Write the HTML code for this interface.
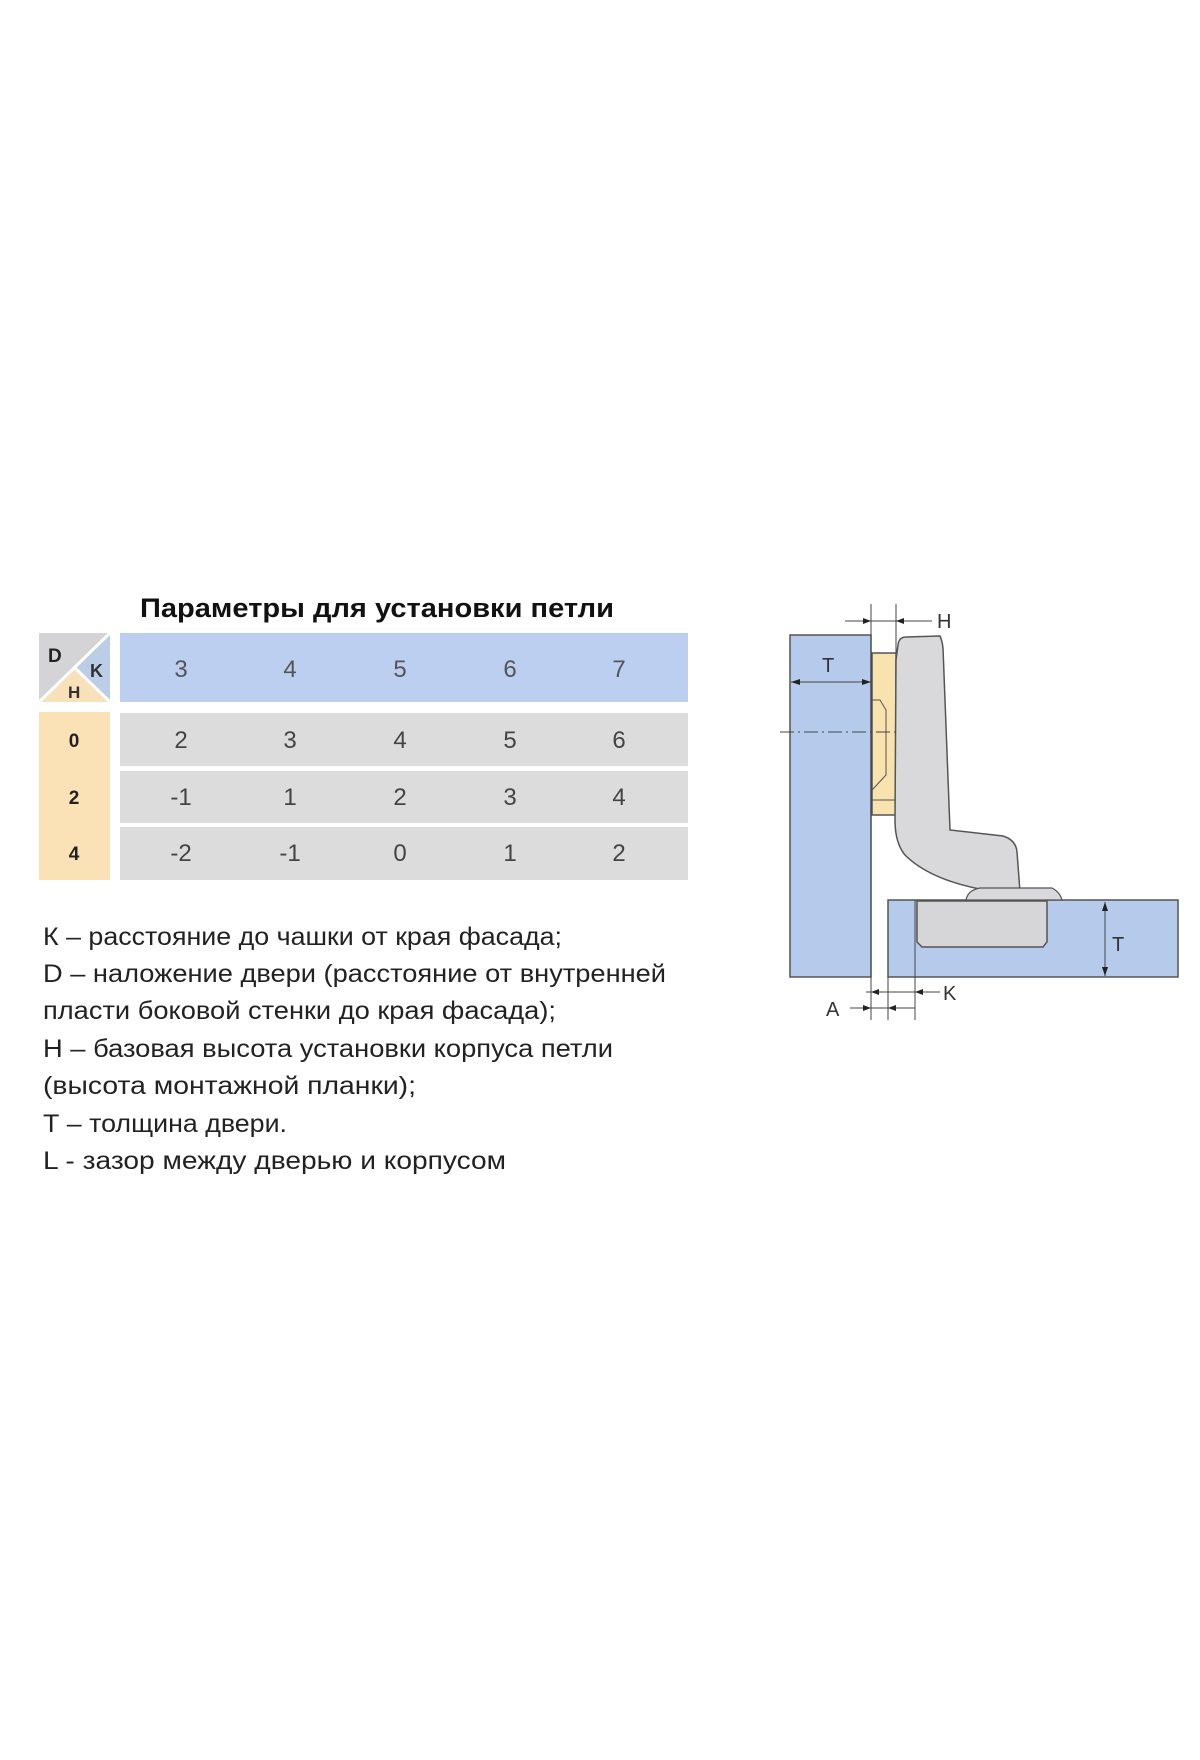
<!DOCTYPE html>
<html><head><meta charset="utf-8"><style>
html,body{margin:0;padding:0;background:#fff;}
svg{display:block;}
</style></head><body>
<svg width="1200" height="1760" viewBox="0 0 1200 1760" xmlns="http://www.w3.org/2000/svg" font-family="Liberation Sans, sans-serif">
<rect width="1200" height="1760" fill="#fff"/>
<!-- Title -->
<text x="140" y="617" font-size="27" font-weight="bold" fill="#111" textLength="474" lengthAdjust="spacingAndGlyphs">Параметры для установки петли</text>
<!-- corner -->
<polygon points="39,633 110,633 39,702" fill="#d4d4d6"/>
<polygon points="110,633 110,702 74.5,667.5" fill="#bccde8"/>
<polygon points="39,702 110,702 74.5,667.5" fill="#f8e0b8"/>
<line x1="110" y1="633" x2="39" y2="702" stroke="#fff" stroke-width="3"/>
<line x1="74.5" y1="667.5" x2="110" y2="702" stroke="#fff" stroke-width="3"/>
<text x="48" y="662" font-size="19" font-weight="bold" fill="#222">D</text>
<text x="90" y="677" font-size="18" font-weight="bold" fill="#333">K</text>
<text x="68" y="698" font-size="17" font-weight="bold" fill="#333">H</text>
<!-- header -->
<rect x="120" y="633" width="568" height="69" fill="#bccff0"/>
<g font-size="24" fill="#555" text-anchor="middle">
<text x="181" y="677">3</text><text x="290" y="677">4</text><text x="400" y="677">5</text><text x="510" y="677">6</text><text x="619" y="677">7</text>
</g>
<!-- rows -->
<rect x="39" y="712" width="71" height="168" fill="#fbe2b6"/>
<rect x="120" y="713" width="568" height="53" fill="#dcdcdc"/>
<rect x="120" y="771" width="568" height="52" fill="#dcdcdc"/>
<rect x="120" y="827" width="568" height="53" fill="#dcdcdc"/>
<g font-size="19" font-weight="bold" fill="#222" text-anchor="middle">
<text x="74" y="747">0</text><text x="74" y="804">2</text><text x="74" y="860">4</text>
</g>
<g font-size="24" fill="#444" text-anchor="middle">
<text x="181" y="748">2</text><text x="290" y="748">3</text><text x="400" y="748">4</text><text x="510" y="748">5</text><text x="619" y="748">6</text>
<text x="181" y="805">-1</text><text x="290" y="805">1</text><text x="400" y="805">2</text><text x="510" y="805">3</text><text x="619" y="805">4</text>
<text x="181" y="861">-2</text><text x="290" y="861">-1</text><text x="400" y="861">0</text><text x="510" y="861">1</text><text x="619" y="861">2</text>
</g>
<!-- text lines -->
<g font-size="25" fill="#222" lengthAdjust="spacingAndGlyphs">
<text x="43" y="945" textLength="519" lengthAdjust="spacingAndGlyphs">К – расстояние до чашки от края фасада;</text>
<text x="43" y="982" textLength="623" lengthAdjust="spacingAndGlyphs">D – наложение двери (расстояние от внутренней</text>
<text x="43" y="1019" textLength="513" lengthAdjust="spacingAndGlyphs">пласти боковой стенки до края фасада);</text>
<text x="43" y="1057" textLength="570" lengthAdjust="spacingAndGlyphs">Н – базовая высота установки корпуса петли</text>
<text x="43" y="1094" textLength="373" lengthAdjust="spacingAndGlyphs">(высота монтажной планки);</text>
<text x="43" y="1132" textLength="244" lengthAdjust="spacingAndGlyphs">Т – толщина двери.</text>
<text x="43" y="1169" textLength="463" lengthAdjust="spacingAndGlyphs">L - зазор между дверью и корпусом</text>
</g>
<!-- diagram -->
<g stroke="#555" stroke-width="1.5">
<rect x="790" y="635" width="81" height="342" fill="#b6cbeb"/>
<rect x="888" y="900" width="290" height="77" fill="#b6cbeb" stroke-width="1.5"/>
<path d="M872,653 L896,653 L896,815 L872,815 Z" fill="#f8e2ad"/>
<path d="M872,700 L880,700 L886,710 L886,775 L872,790" fill="none" stroke-width="1"/>
<line x1="872" y1="800" x2="896" y2="800" stroke-width="1"/>
<path d="M898,645 Q899,637 906,637 L940,636 Q942,640 943,648 L950,830 L1003,836 Q1016,840 1017,852 L1020,892 L985,890 Q930,880 905,855 Q895,843 895,820 L896,660 Z" fill="#d9d9db"/>
<path d="M966,900 Q968,890 980,888 L1052,888 Q1060,892 1062,900 Z" fill="#d9d9db" stroke-width="1.2"/>
<path d="M917,901 L917,942 L922,947 L1043,947 L1047,942 L1047,901 Z" fill="#d6d6d8"/>
</g>
<g stroke="#444" stroke-width="1" fill="none">
<line x1="871" y1="604" x2="871" y2="1020"/>
<line x1="896" y1="604" x2="896" y2="653"/>
<line x1="845" y1="621" x2="932" y2="621"/>
<line x1="791" y1="682" x2="871" y2="682"/>
<line x1="780" y1="732" x2="897" y2="732" stroke-dasharray="14,4,2,4"/>
<line x1="1105" y1="902" x2="1105" y2="976"/>
<line x1="888" y1="977" x2="888" y2="1020"/>
<line x1="915" y1="900" x2="915" y2="1020"/>
<line x1="866" y1="992" x2="940" y2="992"/>
<line x1="850" y1="1008" x2="915" y2="1008"/>
</g>
<g fill="#222">
<polygon points="871,621 863,618 863,624"/>
<polygon points="896,621 904,618 904,624"/>
<polygon points="791,682 800,679 800,685"/>
<polygon points="871,682 862,679 862,685"/>
<polygon points="1105,902 1102,911 1108,911"/>
<polygon points="1105,976 1102,967 1108,967"/>
<polygon points="871,992 879,989 879,995"/>
<polygon points="915,992 923,989 923,995"/>
<polygon points="871,1008 863,1005 863,1011"/>
<polygon points="888,1008 896,1005 896,1011"/>
</g>
<g font-size="20" fill="#333">
<text x="937" y="628">H</text>
<text x="822" y="672">T</text>
<text x="1112" y="951">T</text>
<text x="943" y="1000">K</text>
<text x="826" y="1016">A</text>
</g>
</svg>
</body></html>
